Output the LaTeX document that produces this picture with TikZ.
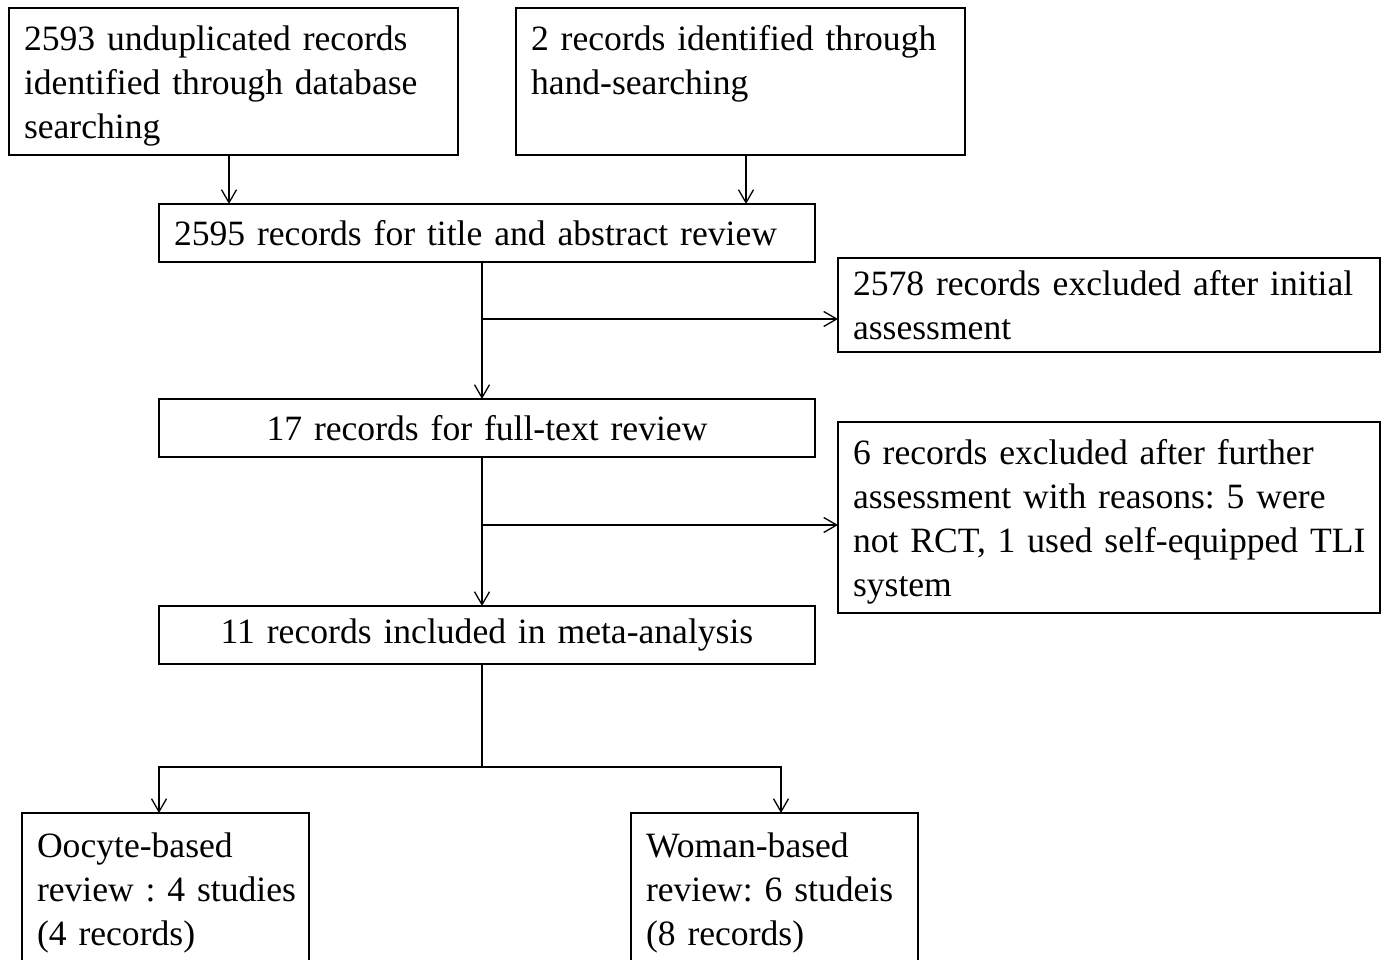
\documentclass[tikz,border=0pt]{standalone}
\usepackage{fontspec}
\setmainfont{Liberation Serif}
\usetikzlibrary{arrows.meta}
\newcommand{\firstln}{\rule{0pt}{34pt}}
\frenchspacing
\begin{document}
\begin{tikzpicture}[x=1pt,y=-1pt,
  box/.style={draw,line width=1.3pt,anchor=north west,inner xsep=15pt,inner ysep=0pt,outer sep=0pt,
    align=left,font=\fontsize{35.6}{44}\selectfont\frenchspacing},
  arr/.style={-{Straight Barb[length=13pt,width=15pt,line width=1.3pt]},line width=1.3pt},
  ln/.style={line width=1.3pt}]
\useasboundingbox[fill=white] (0,0) rectangle (1383,960);
\node[box,text width=419pt,minimum height=147pt] (db) at (9,8)
  {\firstln\mbox{2593 unduplicated records}\\\mbox{identified through database}\\\mbox{searching}};
\node[box,text width=419pt,minimum height=147pt] (hs) at (516,8)
  {\firstln\mbox{2 records identified through}\\\mbox{hand-searching}\\\rule[-8pt]{0pt}{8pt}};
\node[box,text width=626pt,minimum height=58pt] (tr) at (159,204)
  {\mbox{2595 records for title and abstract review}};
\node[box,text width=512pt,minimum height=94pt] (ex1) at (838,258)
  {\mbox{2578 records excluded after initial}\\\mbox{assessment}};
\node[box,text width=626pt,minimum height=58pt,align=center] (ft) at (159,399)
  {\mbox{17 records for full-text review}};
\node[box,text width=512pt,minimum height=191pt] (ex2) at (838,422)
  {\firstln\mbox{6 records excluded after further}\\\mbox{assessment with reasons: 5 were}\\\mbox{not RCT, 1 used self-equipped TLI}\\\mbox{system}};
\node[box,text width=626pt,minimum height=58pt,align=center] (mi) at (159,606)
  {\mbox{11 records included in meta-analysis}};
\node[box,text width=257pt,minimum height=150pt] (oo) at (22,813)
  {\firstln\mbox{Oocyte-based}\\\mbox{review : 4 studies}\\\mbox{(4 records)}};
\node[box,text width=257pt,minimum height=150pt] (wo) at (631,813)
  {\firstln\mbox{Woman-based}\\\mbox{review: 6 studeis}\\\mbox{(8 records)}};
% connectors
\draw[arr] ([xshift=-4.5pt]db.south) -- ([xshift=-4.5pt]db.south |- tr.north);
\draw[arr] ([xshift=5.5pt]hs.south) -- ([xshift=5.5pt]hs.south |- tr.north);
\coordinate (j1) at (482,319);
\coordinate (j2) at (482,525);
\coordinate (j3) at (482,767);
\draw[arr] (j1 |- tr.south) -- (j1 |- ft.north);
\draw[arr] (j1) -- (j1 -| ex1.west);
\draw[arr] (j2 |- ft.south) -- (j2 |- mi.north);
\draw[arr] (j2) -- (j2 -| ex2.west);
\draw[ln] (j3 |- mi.south) -- (j3);
\draw[arr] (j3) -| ([xshift=-6.5pt]oo.north);
\draw[arr] (j3) -| ([xshift=6.5pt]wo.north);
\end{tikzpicture}
\end{document}
